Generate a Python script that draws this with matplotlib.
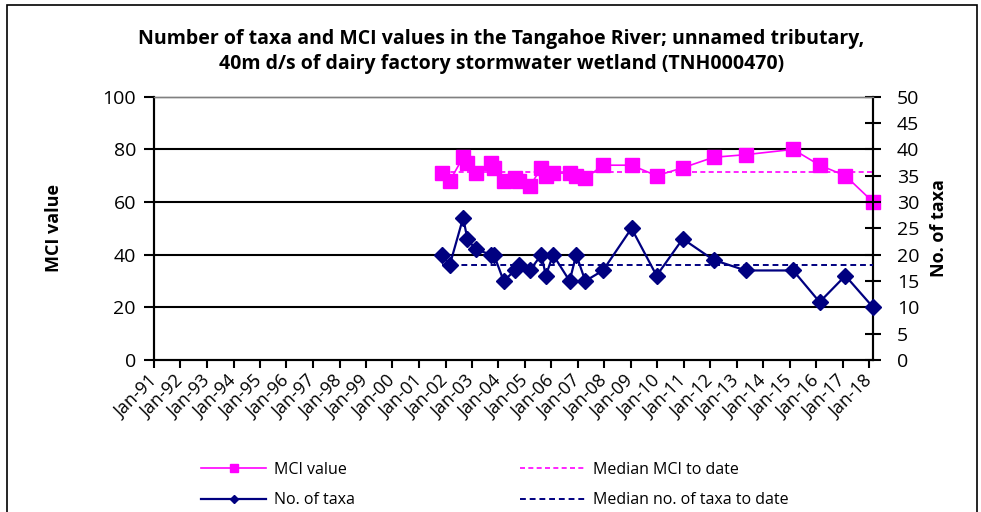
import datetime as dt
import matplotlib
matplotlib.use("Agg")
import matplotlib.pyplot as plt
import matplotlib.dates as mdates
from matplotlib.patches import Rectangle

plt.rcParams["font.family"] = ["Open Sans", "DejaVu Sans"]

# ── data ──
SAMPLE_DATES = [
    "2001-11-15", "2002-02-28", "2002-09-01", "2002-10-30", "2003-02-20",
    "2003-09-25", "2003-10-30", "2004-03-13", "2004-08-13", "2004-10-12",
    "2005-03-08", "2005-08-15", "2005-10-15", "2006-01-22", "2006-09-08",
    "2006-12-08", "2007-04-12", "2007-12-12", "2009-01-08", "2009-12-20",
    "2010-12-15", "2012-02-13", "2013-05-01", "2015-02-14", "2016-02-14",
    "2017-02-03", "2018-02-20",
]
MCI_VALUES = [71, 68, 77, 75, 71, 75, 73, 68, 69, 68, 66, 73, 70, 71, 71,
              70, 69, 74, 74, 70, 73, 77, 78, 80, 74, 70, 60]
TAXA_COUNTS = [20, 18, 27, 23, 21, 20, 20, 15, 17, 18, 17, 20, 16, 20, 15,
               20, 15, 17, 25, 16, 23, 19, 17, 17, 11, 16, 10]
MEDIAN_MCI = 71.5
MEDIAN_TAXA = 18

PINK = "#FF00FF"
NAVY = "#000080"

dates = [dt.datetime.strptime(d, "%Y-%m-%d") for d in SAMPLE_DATES]

fig = plt.figure(figsize=(9.81, 5.12), dpi=100)
ax = fig.add_axes([0.157, 0.297, 0.733, 0.514])
ax2 = ax.twinx()

# MCI on left axis
ax.plot(dates, MCI_VALUES, color=PINK, lw=1.2, marker="s", ms=9.5,
        label="MCI value", clip_on=False, zorder=5)
ax.plot([dates[0], dates[-1]], [MEDIAN_MCI, MEDIAN_MCI], color=PINK,
        lw=1.2, ls=(0, (3, 2)), label="Median MCI to date", zorder=4)

# taxa on right axis
ax2.plot(dates, TAXA_COUNTS, color=NAVY, lw=1.6, marker="D", ms=8,
         label="No. of taxa", clip_on=False, zorder=5)
ax2.plot([dates[0], dates[-1]], [MEDIAN_TAXA, MEDIAN_TAXA], color=NAVY,
         lw=1.4, ls=(0, (3, 2)), label="Median no. of taxa to date", zorder=4)

ax.set_ylim(0, 100)
ax2.set_ylim(0, 50)
ax.set_yticks(range(0, 101, 20))
ax2.set_yticks(range(0, 51, 5))
ax.set_xlim(dt.datetime(1991, 1, 1), dt.datetime(2018, 2, 20))
ax.xaxis.set_major_locator(mdates.YearLocator())
ax.xaxis.set_major_formatter(mdates.DateFormatter("%b-%y"))

for y in range(20, 100, 20):
    ax.axhline(y, color="black", lw=1.5, zorder=1)

for a in (ax, ax2):
    for s in a.spines.values():
        s.set_color("black")
        s.set_linewidth(1.5)
    a.spines["top"].set_color("#808080")
    a.spines["top"].set_linewidth(1.0)

ax.tick_params(axis="y", direction="out", length=7, width=1.5, labelsize=14, pad=6)
ax2.tick_params(axis="y", direction="inout", length=12, width=1.5, labelsize=14, pad=11)
ax.tick_params(axis="x", direction="out", length=6, width=1.5, labelsize=13, pad=7)
for lbl in ax.get_xticklabels():
    lbl.set_rotation(45)
    lbl.set_ha("right")
    lbl.set_va("center")
    lbl.set_rotation_mode("anchor")

ax.set_ylabel("MCI value", fontsize=13, fontweight="bold", labelpad=28)
ax2.set_ylabel("No. of taxa", fontsize=13, fontweight="bold", labelpad=8)

fig.text(0.511, 0.899, "Number of taxa and MCI values in the Tangahoe River; unnamed tributary,\n"
         "40m d/s of dairy factory stormwater wetland (TNH000470)",
         ha="center", va="center", fontsize=14, fontweight="bold", linespacing=1.3)

h1, l1 = ax.get_legend_handles_labels()
h2, l2 = ax2.get_legend_handles_labels()
handles = [h1[0], h2[0], h1[1], h2[1]]
labels = [l1[0], l2[0], l1[1], l2[1]]
fig.legend(handles, labels, ncol=2, loc="upper left",
           bbox_to_anchor=(0.19, 0.126), frameon=False, fontsize=11.5,
           handlelength=4.1, columnspacing=10.3, markerscale=0.55,
           labelspacing=0.9, handletextpad=0.5)

# chart-area border
fig.patches.append(Rectangle((0.007, -0.05), 0.989, 1.04, transform=fig.transFigure,
                             fill=False, edgecolor="black", lw=1.2))

fig.savefig("out.png", dpi=100)
